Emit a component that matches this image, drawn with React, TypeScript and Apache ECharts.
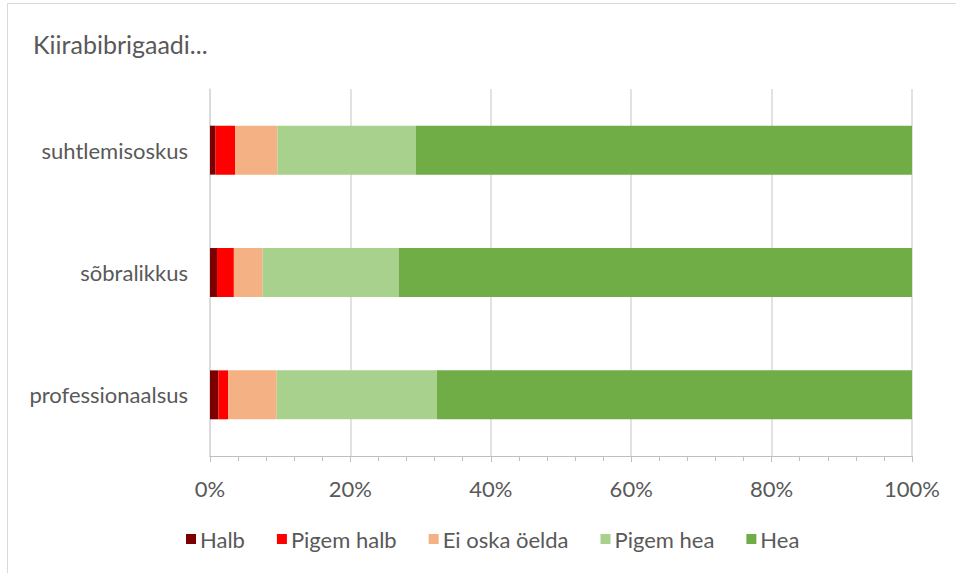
import React, { useEffect, useRef } from "react";
import * as echarts from "echarts";

const categories = ["professionaalsus", "sõbralikkus", "suhtlemisoskus"];
const seriesNames = ["Halb", "Pigem halb", "Ei oska öelda", "Pigem hea", "Hea"];
const halb = [1.2, 1.0, 0.8];
const pigemHalb = [1.4, 2.4, 2.8];
const eiOska = [6.9, 4.1, 6.0];
const pigemHea = [22.8, 19.4, 19.7];
const hea = [67.7, 73.1, 70.7];
const colors = ["#7B0000", "#FF0000", "#F4B183", "#A9D18E", "#70AD47"];
const titleText = "Kiirabibrigaadi...";

const FONT = "Lato";
const TEXT = "#595959";

export default function App() {
  const ref = useRef<HTMLDivElement>(null);
  useEffect(() => {
    if (!ref.current) return;
    const chart = echarts.init(ref.current, undefined, { renderer: "svg" });
    const values = [halb, pigemHalb, eiOska, pigemHea, hea];
    chart.setOption({
      animation: false,
      backgroundColor: "#ffffff",
      textStyle: { fontFamily: FONT },
      title: {
        text: titleText,
        left: 33,
        top: 31,
        padding: 0,
        textStyle: { fontFamily: FONT, fontSize: 25, fontWeight: "normal", color: TEXT },
      },
      graphic: [
        {
          type: "rect",
          shape: { x: 7.5, y: 3.5, width: 1000, height: 1000 },
          style: { fill: "none", stroke: "#d9d9d9", lineWidth: 1 },
          silent: true,
          z: -1,
        },
      ],
      legend: {
        bottom: 18,
        left: 181,
        itemWidth: 10,
        itemHeight: 10,
        itemGap: 32,
        icon: "rect",
        data: seriesNames,
        textStyle: { fontFamily: FONT, fontSize: 22, color: TEXT, padding: [0, 0, 0, -1] },
      },
      grid: { left: 210, right: 44, top: 89, bottom: 117, containLabel: false },
      xAxis: {
        type: "value",
        min: 0,
        max: 100,
        interval: 20,
        axisLine: { show: true, lineStyle: { color: "#bfbfbf", width: 1 } },
        axisTick: { show: true, length: 6, lineStyle: { color: "#bfbfbf" } },
        minorTick: { show: true, splitNumber: 5, length: 5, lineStyle: { color: "#bfbfbf" } },
        splitLine: { show: true, lineStyle: { color: "#d9d9d9", width: 1.5 } },
        axisLabel: { formatter: "{value}%", fontFamily: FONT, fontSize: 22, color: TEXT, margin: 21 },
      },
      yAxis: {
        type: "category",
        data: categories,
        axisLine: { show: true, lineStyle: { color: "#d9d9d9", width: 1.5 } },
        axisTick: { show: false },
        axisLabel: { fontFamily: FONT, fontSize: 22, color: TEXT, margin: 22 },
      },
      series: seriesNames.map((name, i) => ({
        name,
        type: "bar",
        stack: "total",
        barWidth: "40%",
        data: values[i],
        itemStyle: { color: colors[i] },
      })),
    });
    return () => chart.dispose();
  }, []);
  return (
    <div
      ref={ref}
      style={{ position: "fixed", left: 0, top: 0, width: 956, height: 573 }}
    />
  );
}
